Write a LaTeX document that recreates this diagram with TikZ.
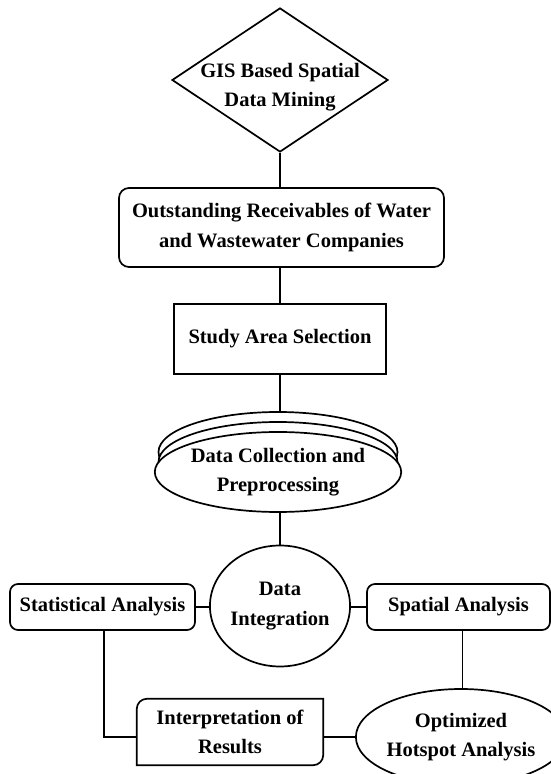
\documentclass[tikz,border=0pt]{standalone}
\usepackage{fontspec}
\setmainfont{Liberation Serif}
\usetikzlibrary{shapes.geometric,calc}
\tikzset{
  lbl/.style={font=\bfseries\fontsize{20.5}{29.5}\selectfont, align=center, inner sep=0pt},
  box/.style={draw, line width=1.7pt, inner sep=0pt, lbl},
  rbox/.style={box, rounded corners=9pt},
  ell/.style={draw, ellipse, line width=1.7pt, inner sep=0pt, lbl, fill=white},
  conn/.style={line width=1.7pt},
}
\begin{document}
\begin{tikzpicture}[x=1pt,y=1pt]
\useasboundingbox (0,0) rectangle (551,774);
% diamond
\node[draw, diamond, line width=1.7pt, minimum width=216pt, minimum height=144pt, inner sep=0pt] (gis) at (280,694) {};
\node[lbl] (gistext) at (280,687) {GIS Based Spatial\\Data Mining};
% receivables
\node[rbox, minimum width=325pt, minimum height=79pt, rounded corners=10pt] (recv) at (281.5,546.5) {Outstanding Receivables of Water\\and Wastewater Companies};
% study area
\node[box, minimum width=212pt, minimum height=70pt] (study) at (280,435) {Study Area Selection};
% stacked ellipses
\node[ell, minimum width=239pt, minimum height=80pt] (dc3) at (278,322) {};
\node[ell, minimum width=239pt, minimum height=80pt] (dc2) at (278,312) {};
\node[ell, minimum width=239pt, minimum height=80pt] (dc) at (278,302) {Data Collection and\\Preprocessing};
% integration
\node[ell, minimum width=115pt, minimum height=121pt] (integ) at (280,168) {Data\\Integration};
% side boxes
\node[rbox, minimum width=185pt, minimum height=46pt, rounded corners=8pt] (stat) at (102.5,167) {Statistical Analysis};
\node[rbox, minimum width=183pt, minimum height=46pt, rounded corners=8pt] (spat) at (458.5,167) {Spatial Analysis};
% interpretation
\node[lbl, minimum width=186pt, minimum height=66pt] (interp) at (230,42) {Interpretation of\\Results};
\draw[line width=1.7pt] (interp.south west) -- ([yshift=-10pt]interp.north west) arc[start angle=180,end angle=90,radius=10pt] -- (interp.north east) -- ([yshift=10pt]interp.south east) arc[start angle=0,end angle=-90,radius=10pt] -- cycle;
% optimized hotspot
\node[ell, minimum width=175pt, minimum height=96pt] (opt) at (461,37) {Optimized\\Hotspot Analysis};
% connectors
\draw[conn] (gis.south) -- (gis.south |- recv.north);
\draw[conn] (study.north |- recv.south) -- (study.north);
\draw[conn] (study.south) -- (study.south |- dc3.north);
\draw[conn] (integ.north |- dc.south) -- (integ.north);
\draw[conn] (stat.east) -- (stat.east -| integ.west);
\draw[conn] (integ.east |- spat.west) -- (spat.west);
\draw[conn] ([xshift=4pt]spat.south) -- ([xshift=4pt]spat.south |- opt.north);
\draw[conn] ([xshift=1.5pt]stat.south) -- ([xshift=1.5pt]stat.south |- opt.west) -- (opt.west -| interp.west);
\draw[conn] (opt.west -| interp.east) -- (opt.west);
\end{tikzpicture}
\end{document}
